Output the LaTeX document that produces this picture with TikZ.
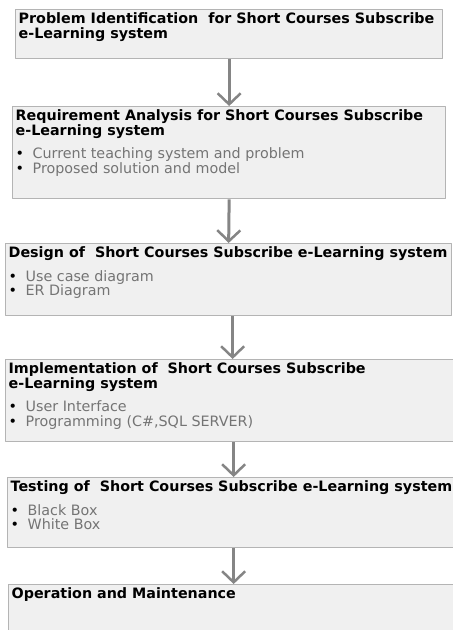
\documentclass[tikz,border=0pt]{standalone}
\usepackage{fontspec}
\setmainfont{DejaVu Sans}
\usetikzlibrary{arrows.meta}
\definecolor{boxfill}{HTML}{F0F0F0}
\definecolor{boxline}{HTML}{B4B4B4}
\definecolor{flowgray}{HTML}{858585}
\definecolor{itemgray}{HTML}{747474}
\newcommand{\phasetitle}[1]{{\bfseries #1\par}\vspace{9pt}}
\newcommand{\phaseitem}[1]{\makebox[17pt][l]{\textbullet}\textcolor{itemgray}{#1}\par}
\newcommand{\phasebody}[3]{\parbox[t][#2][t]{#1}{\raggedright #3}}
\begin{document}
\begin{tikzpicture}[x=1pt,y=-1pt,line join=round,
	phase/.style={draw=boxline,fill=boxfill,line width=1.3pt,anchor=north west,inner xsep=3pt,inner ysep=3pt,font=\fontsize{14.3}{14.6}\selectfont},
	flow/.style={draw=flowgray,line width=3pt,-{Straight Barb[length=11pt,width=23pt,line width=2.5pt]}}]
	\useasboundingbox (0,0) rectangle (453,630);
	% phases, top to bottom
	\node[phase] (ident) at (15,9) {\phasebody{421pt}{43pt}{\phasetitle{Problem Identification\ \ for Short Courses Subscribe\\ e-Learning system}}};
	\node[phase] (reqs) at (12,106) {\phasebody{427pt}{86pt}{\phasetitle{Requirement Analysis for Short Courses Subscribe\\ e-Learning system}
		\phaseitem{Current teaching system and problem}
		\phaseitem{Proposed solution and model}}};
	\node[phase] (design) at (5,243) {\phasebody{440pt}{66pt}{\phasetitle{Design of\ \ Short Courses Subscribe e-Learning system}
		\phaseitem{Use case diagram}
		\phaseitem{ER Diagram}}};
	\node[phase] (impl) at (5,359) {\phasebody{448pt}{76pt}{\phasetitle{Implementation of\ \ Short Courses Subscribe\\ e-Learning system}
		\phaseitem{User Interface}
		\phaseitem{Programming (C\#,SQL SERVER)}}};
	\node[phase] (test) at (7,477) {\phasebody{446pt}{64pt}{\phasetitle{Testing of\ \ Short Courses Subscribe e-Learning system}
		\phaseitem{Black Box}
		\phaseitem{White Box}}};
	\node[phase] (oper) at (8,584) {\phasebody{444pt}{54pt}{\phasetitle{Operation and Maintenance}}};
	% flow
	\draw[flow] (ident.south) -- (reqs.north);
	\draw[flow] (reqs.south) -- (design.north);
	\draw[flow] (design.south -| impl.north) -- (impl.north);
	\draw[flow] (impl.south -| test.north) -- (test.north);
	\draw[flow] (test.south -| oper.north) -- (oper.north);
\end{tikzpicture}
\end{document}
